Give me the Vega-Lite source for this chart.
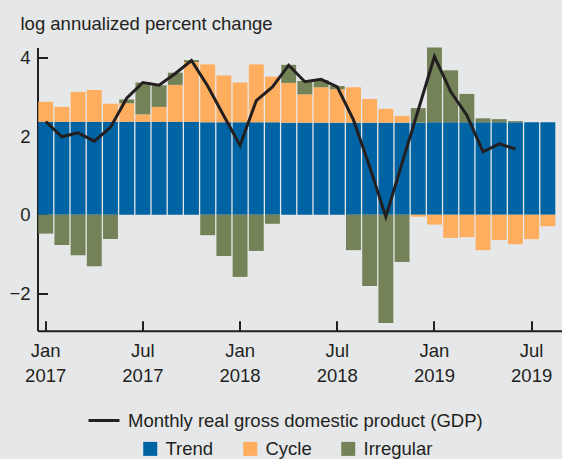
{
  "$schema": "https://vega.github.io/schema/vega-lite/v6.json",
  "width": 524.5,
  "height": 283.3,
  "autosize": {"type": "none"},
  "padding": {"left": 37.5, "top": 47.5, "right": 0, "bottom": 128.2},
  "background": "#e6e7e8",
  "config": {
    "view": {"stroke": null},
    "font": "Liberation Sans",
    "axis": {
      "labelFont": "Liberation Sans",
      "labelFontSize": 18.5,
      "labelColor": "#231f20",
      "domainColor": "#231f20",
      "domainWidth": 2,
      "tickColor": "#231f20",
      "tickWidth": 2,
      "grid": false
    },
    "legend": {
      "labelFont": "Liberation Sans",
      "labelFontSize": 18.5,
      "labelColor": "#231f20",
      "labelLimit": 0,
      "padding": 0
    }
  },
  "datasets": {
    "bars": [
      {"month": "2017-01", "component": "Trend", "ord": 1, "value": 2.36},
      {"month": "2017-01", "component": "Cycle", "ord": 2, "value": 0.51},
      {"month": "2017-01", "component": "Irregular", "ord": 3, "value": -0.48},
      {"month": "2017-02", "component": "Trend", "ord": 1, "value": 2.36},
      {"month": "2017-02", "component": "Cycle", "ord": 2, "value": 0.38},
      {"month": "2017-02", "component": "Irregular", "ord": 3, "value": -0.77},
      {"month": "2017-03", "component": "Trend", "ord": 1, "value": 2.36},
      {"month": "2017-03", "component": "Cycle", "ord": 2, "value": 0.76},
      {"month": "2017-03", "component": "Irregular", "ord": 3, "value": -1.03},
      {"month": "2017-04", "component": "Trend", "ord": 1, "value": 2.36},
      {"month": "2017-04", "component": "Cycle", "ord": 2, "value": 0.81},
      {"month": "2017-04", "component": "Irregular", "ord": 3, "value": -1.31},
      {"month": "2017-05", "component": "Trend", "ord": 1, "value": 2.36},
      {"month": "2017-05", "component": "Cycle", "ord": 2, "value": 0.46},
      {"month": "2017-05", "component": "Irregular", "ord": 3, "value": -0.62},
      {"month": "2017-06", "component": "Trend", "ord": 1, "value": 2.36},
      {"month": "2017-06", "component": "Cycle", "ord": 2, "value": 0.47},
      {"month": "2017-06", "component": "Irregular", "ord": 3, "value": 0.10},
      {"month": "2017-07", "component": "Trend", "ord": 1, "value": 2.36},
      {"month": "2017-07", "component": "Cycle", "ord": 2, "value": 0.19},
      {"month": "2017-07", "component": "Irregular", "ord": 3, "value": 0.81},
      {"month": "2017-08", "component": "Trend", "ord": 1, "value": 2.36},
      {"month": "2017-08", "component": "Cycle", "ord": 2, "value": 0.38},
      {"month": "2017-08", "component": "Irregular", "ord": 3, "value": 0.55},
      {"month": "2017-09", "component": "Trend", "ord": 1, "value": 2.36},
      {"month": "2017-09", "component": "Cycle", "ord": 2, "value": 0.94},
      {"month": "2017-09", "component": "Irregular", "ord": 3, "value": 0.31},
      {"month": "2017-10", "component": "Trend", "ord": 1, "value": 2.36},
      {"month": "2017-10", "component": "Cycle", "ord": 2, "value": 1.52},
      {"month": "2017-10", "component": "Irregular", "ord": 3, "value": 0.05},
      {"month": "2017-11", "component": "Trend", "ord": 1, "value": 2.35},
      {"month": "2017-11", "component": "Cycle", "ord": 2, "value": 1.47},
      {"month": "2017-11", "component": "Irregular", "ord": 3, "value": -0.52},
      {"month": "2017-12", "component": "Trend", "ord": 1, "value": 2.35},
      {"month": "2017-12", "component": "Cycle", "ord": 2, "value": 1.19},
      {"month": "2017-12", "component": "Irregular", "ord": 3, "value": -1.05},
      {"month": "2018-01", "component": "Trend", "ord": 1, "value": 2.35},
      {"month": "2018-01", "component": "Cycle", "ord": 2, "value": 1.01},
      {"month": "2018-01", "component": "Irregular", "ord": 3, "value": -1.58},
      {"month": "2018-02", "component": "Trend", "ord": 1, "value": 2.35},
      {"month": "2018-02", "component": "Cycle", "ord": 2, "value": 1.47},
      {"month": "2018-02", "component": "Irregular", "ord": 3, "value": -0.92},
      {"month": "2018-03", "component": "Trend", "ord": 1, "value": 2.35},
      {"month": "2018-03", "component": "Cycle", "ord": 2, "value": 1.16},
      {"month": "2018-03", "component": "Irregular", "ord": 3, "value": -0.23},
      {"month": "2018-04", "component": "Trend", "ord": 1, "value": 2.34},
      {"month": "2018-04", "component": "Cycle", "ord": 2, "value": 1.01},
      {"month": "2018-04", "component": "Irregular", "ord": 3, "value": 0.46},
      {"month": "2018-05", "component": "Trend", "ord": 1, "value": 2.34},
      {"month": "2018-05", "component": "Cycle", "ord": 2, "value": 0.72},
      {"month": "2018-05", "component": "Irregular", "ord": 3, "value": 0.34},
      {"month": "2018-06", "component": "Trend", "ord": 1, "value": 2.34},
      {"month": "2018-06", "component": "Cycle", "ord": 2, "value": 0.90},
      {"month": "2018-06", "component": "Irregular", "ord": 3, "value": 0.18},
      {"month": "2018-07", "component": "Trend", "ord": 1, "value": 2.34},
      {"month": "2018-07", "component": "Cycle", "ord": 2, "value": 0.85},
      {"month": "2018-07", "component": "Irregular", "ord": 3, "value": 0.08},
      {"month": "2018-08", "component": "Trend", "ord": 1, "value": 2.34},
      {"month": "2018-08", "component": "Cycle", "ord": 2, "value": 0.90},
      {"month": "2018-08", "component": "Irregular", "ord": 3, "value": -0.90},
      {"month": "2018-09", "component": "Trend", "ord": 1, "value": 2.34},
      {"month": "2018-09", "component": "Cycle", "ord": 2, "value": 0.60},
      {"month": "2018-09", "component": "Irregular", "ord": 3, "value": -1.81},
      {"month": "2018-10", "component": "Trend", "ord": 1, "value": 2.34},
      {"month": "2018-10", "component": "Cycle", "ord": 2, "value": 0.35},
      {"month": "2018-10", "component": "Irregular", "ord": 3, "value": -2.75},
      {"month": "2018-11", "component": "Trend", "ord": 1, "value": 2.34},
      {"month": "2018-11", "component": "Cycle", "ord": 2, "value": 0.17},
      {"month": "2018-11", "component": "Irregular", "ord": 3, "value": -1.20},
      {"month": "2018-12", "component": "Trend", "ord": 1, "value": 2.34},
      {"month": "2018-12", "component": "Cycle", "ord": 2, "value": -0.05},
      {"month": "2018-12", "component": "Irregular", "ord": 3, "value": 0.37},
      {"month": "2019-01", "component": "Trend", "ord": 1, "value": 2.35},
      {"month": "2019-01", "component": "Cycle", "ord": 2, "value": -0.25},
      {"month": "2019-01", "component": "Irregular", "ord": 3, "value": 1.90},
      {"month": "2019-02", "component": "Trend", "ord": 1, "value": 2.35},
      {"month": "2019-02", "component": "Cycle", "ord": 2, "value": -0.59},
      {"month": "2019-02", "component": "Irregular", "ord": 3, "value": 1.32},
      {"month": "2019-03", "component": "Trend", "ord": 1, "value": 2.35},
      {"month": "2019-03", "component": "Cycle", "ord": 2, "value": -0.57},
      {"month": "2019-03", "component": "Irregular", "ord": 3, "value": 0.72},
      {"month": "2019-04", "component": "Trend", "ord": 1, "value": 2.35},
      {"month": "2019-04", "component": "Cycle", "ord": 2, "value": -0.90},
      {"month": "2019-04", "component": "Irregular", "ord": 3, "value": 0.10},
      {"month": "2019-05", "component": "Trend", "ord": 1, "value": 2.35},
      {"month": "2019-05", "component": "Cycle", "ord": 2, "value": -0.64},
      {"month": "2019-05", "component": "Irregular", "ord": 3, "value": 0.08},
      {"month": "2019-06", "component": "Trend", "ord": 1, "value": 2.35},
      {"month": "2019-06", "component": "Cycle", "ord": 2, "value": -0.75},
      {"month": "2019-06", "component": "Irregular", "ord": 3, "value": 0.03},
      {"month": "2019-07", "component": "Trend", "ord": 1, "value": 2.35},
      {"month": "2019-07", "component": "Cycle", "ord": 2, "value": -0.62},
      {"month": "2019-07", "component": "Irregular", "ord": 3, "value": 0},
      {"month": "2019-08", "component": "Trend", "ord": 1, "value": 2.35},
      {"month": "2019-08", "component": "Cycle", "ord": 2, "value": -0.29},
      {"month": "2019-08", "component": "Irregular", "ord": 3, "value": 0}
    ],
    "gdp": [
      {"month": "2017-01", "gdp": 2.37},
      {"month": "2017-02", "gdp": 1.98},
      {"month": "2017-03", "gdp": 2.08},
      {"month": "2017-04", "gdp": 1.87},
      {"month": "2017-05", "gdp": 2.22},
      {"month": "2017-06", "gdp": 2.96},
      {"month": "2017-07", "gdp": 3.36},
      {"month": "2017-08", "gdp": 3.29},
      {"month": "2017-09", "gdp": 3.59},
      {"month": "2017-10", "gdp": 3.92},
      {"month": "2017-11", "gdp": 3.27},
      {"month": "2017-12", "gdp": 2.51},
      {"month": "2018-01", "gdp": 1.76},
      {"month": "2018-02", "gdp": 2.90},
      {"month": "2018-03", "gdp": 3.25},
      {"month": "2018-04", "gdp": 3.80},
      {"month": "2018-05", "gdp": 3.38},
      {"month": "2018-06", "gdp": 3.44},
      {"month": "2018-07", "gdp": 3.25},
      {"month": "2018-08", "gdp": 2.41},
      {"month": "2018-09", "gdp": 1.22},
      {"month": "2018-10", "gdp": -0.05},
      {"month": "2018-11", "gdp": 1.31},
      {"month": "2018-12", "gdp": 2.66},
      {"month": "2019-01", "gdp": 4.02},
      {"month": "2019-02", "gdp": 3.13},
      {"month": "2019-03", "gdp": 2.53},
      {"month": "2019-04", "gdp": 1.60},
      {"month": "2019-05", "gdp": 1.80},
      {"month": "2019-06", "gdp": 1.67}
    ]
  },
  "layer": [
    {
      "data": {"name": "bars"},
      "mark": {"type": "bar"},
      "encoding": {
        "x": {
          "field": "month",
          "type": "ordinal",
          "scale": {"paddingInner": 0.08, "paddingOuter": 0.23, "align": 0.1},
          "axis": {
            "title": null,
            "values": ["2017-01", "2017-07", "2018-01", "2018-07", "2019-01", "2019-07"],
            "labelExpr": "[substring(datum.value, 5, 7) == '01' ? 'Jan' : 'Jul', substring(datum.value, 0, 4)]",
            "labelAngle": 0,
            "labelLineHeight": 25,
            "tickSize": -10,
            "labelPadding": 20.5
          }
        },
        "y": {
          "field": "value",
          "type": "quantitative",
          "stack": "zero",
          "scale": {"domain": [-2.95, 4.25], "nice": false, "zero": false},
          "axis": {
            "values": [-2, 0, 2, 4],
            "labelExpr": "datum.value < 0 ? '\u2212' + abs(datum.value) : datum.value",
            "tickSize": -10,
            "labelPadding": 17.5,
            "title": "log annualized percent change",
            "titleAngle": 0,
            "titleAlign": "left",
            "titleBaseline": "alphabetic",
            "titleX": -17.5,
            "titleY": -18,
            "titleFont": "Liberation Sans",
            "titleFontSize": 18.5,
            "titleFontWeight": "normal",
            "titleColor": "#231f20"
          }
        },
        "fill": {
          "field": "component",
          "type": "nominal",
          "scale": {"domain": ["Trend", "Cycle", "Irregular"], "range": ["#0063a4", "#ffad5f", "#738357"]},
          "legend": {
            "title": null,
            "orient": "none",
            "legendX": 103.5,
            "legendY": 392,
            "direction": "horizontal",
            "symbolType": "square",
            "symbolSize": 196,
            "symbolStrokeWidth": 0,
            "labelOffset": 6,
            "columnPadding": 27
          }
        },
        "order": {"field": "ord", "type": "quantitative"}
      }
    },
    {
      "data": {"name": "gdp"},
      "mark": {"type": "line", "strokeWidth": 3},
      "encoding": {
        "x": {"field": "month", "type": "ordinal"},
        "y": {"field": "gdp", "type": "quantitative"},
        "stroke": {
          "datum": "Monthly real gross domestic product (GDP)",
          "type": "nominal",
          "scale": {"range": ["#231f20"]},
          "legend": {
            "title": null,
            "orient": "none",
            "legendX": 49.5,
            "legendY": 356,
            "symbolType": "stroke",
            "symbolSize": 961,
            "symbolStrokeWidth": 3,
            "labelOffset": 7
          }
        }
      }
    }
  ]
}
